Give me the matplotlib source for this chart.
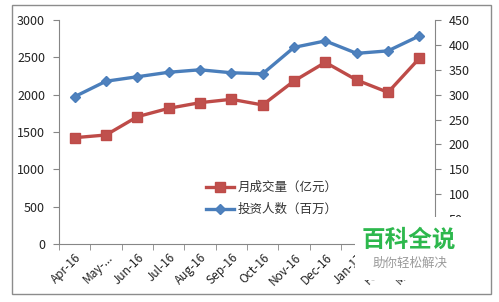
import matplotlib
matplotlib.use("Agg")
import matplotlib.pyplot as plt
from matplotlib.patches import Rectangle

plt.rcParams['font.family'] = ['Noto Sans CJK SC', 'DejaVu Sans']

months = ["Apr-16", "May-...", "Jun-16", "Jul-16", "Aug-16", "Sep-16", "Oct-16",
          "Nov-16", "Dec-16", "Jan-17", "Feb-17", "Mar-17"]
volume = [1424, 1460, 1705, 1817, 1893, 1938, 1862, 2183, 2433, 2196, 2031, 2487]
investors = [296, 327, 336, 345, 350, 344, 342, 395, 408, 383, 388, 418]
label_volume = "月成交量（亿元）"
label_investors = "投资人数（百万）"

W, H = 499, 302
fig = plt.figure(figsize=(W / 100, H / 100), dpi=100)
fig.patch.set_facecolor("white")

# outer frame
fig.patches.append(Rectangle((12 / W, 1 - 294 / H), (491 - 12) / W, (294 - 5) / H,
                             transform=fig.transFigure, fill=False,
                             edgecolor="#8c8c8c", linewidth=1.0))

ax = fig.add_axes([59 / W, 1 - 244 / H, (435 - 59) / W, (244 - 20) / H])
ax2 = ax.twinx()

x = list(range(len(months)))
red_line = "#BE4B48"
red_mark = "#C0504D"
blue_line = "#4A7EBB"
blue_mark = "#4F81BD"

l1, = ax.plot(x, volume, color=red_line, linewidth=2.4, marker="s", markersize=7,
              markerfacecolor=red_mark, markeredgecolor=red_line, label=label_volume)
l2, = ax2.plot(x, investors, color=blue_line, linewidth=2.4, marker="D", markersize=5.5,
               markerfacecolor=blue_mark, markeredgecolor=blue_line, label=label_investors)

ax.set_xlim(-0.5, len(months) - 0.5)
ax.set_ylim(0, 3000)
ax.set_yticks(range(0, 3001, 500))
ax2.set_ylim(0, 450)
ax2.set_yticks(range(0, 451, 50))

ax.set_xticks(x)
ax.set_xticklabels(months, rotation=45, ha="right", rotation_mode="anchor", fontsize=8.5,
                   color="#222222")
ax.tick_params(axis="x", which="major", length=0, pad=5)
ax.set_xticks([i - 0.5 for i in range(len(months) + 1)], minor=True)
ax.tick_params(axis="x", which="minor", length=4, color="#868686", direction="out")
ax.tick_params(axis="y", length=4, color="#868686", labelsize=9, labelcolor="#222222", pad=6)
ax2.tick_params(axis="y", length=4, color="#868686", labelsize=9, labelcolor="#222222", pad=6)

for a in (ax, ax2):
    a.spines["top"].set_visible(False)
    for s in ("left", "right", "bottom"):
        a.spines[s].set_color("#868686")
ax.spines["right"].set_visible(False)
ax2.spines["left"].set_visible(False)
ax2.spines["bottom"].set_visible(False)

leg = ax.legend(handles=[l1, l2], loc="upper left",
                bbox_to_anchor=((195 - 59) / (435 - 59), (244 - 170) / (244 - 20)),
                frameon=False, fontsize=9, handlelength=2.2, labelspacing=0.7,
                handletextpad=0.3)
for t in leg.get_texts():
    t.set_color("#333333")

# watermark
fig.patches.append(Rectangle((355 / W, 1 - 280 / H), (490 - 355) / W, (280 - 217) / H,
                             transform=fig.transFigure, facecolor="white",
                             edgecolor="none", zorder=10))
fig.text(409 / W, 1 - 240 / H, "百科全说", color="#2DB84D", fontsize=17,
         fontweight="bold", ha="center", va="center", zorder=11)
fig.text(410 / W, 1 - 263 / H, "助你轻松解决", color="#9a9a9a", fontsize=9,
         ha="center", va="center", zorder=11)

fig.savefig("out.png", dpi=100)
